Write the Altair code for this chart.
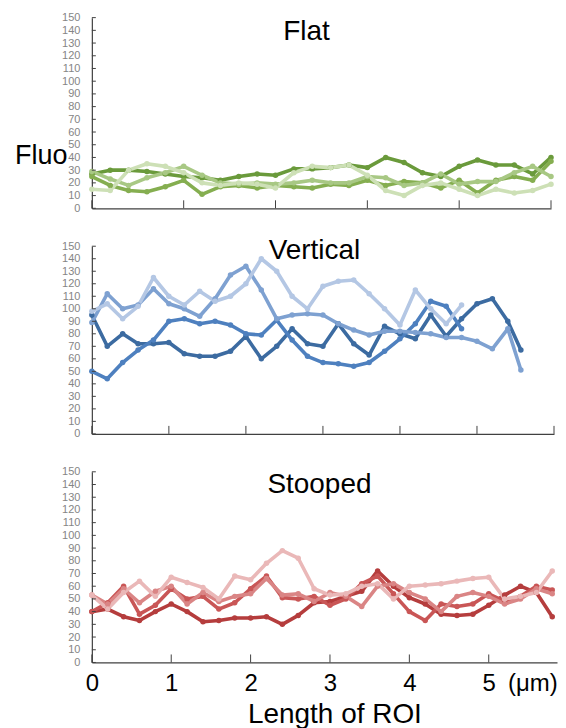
import altair as alt
import pandas as pd

FONT = "Liberation Sans"

# ---------------- data ----------------
flat_x = [0, 0.2, 0.4, 0.6, 0.8, 1.0, 1.2, 1.4, 1.6, 1.8, 2.0, 2.2, 2.4, 2.6,
          2.8, 3.0, 3.2, 3.4, 3.6, 3.8, 4.0, 4.2, 4.4, 4.6, 4.8, 5.0]
flat_1 = [27, 30, 30, 29, 27, 25, 24, 22, 25, 27, 26, 31, 31, 32, 34, 32, 40, 36, 28, 25, 33, 38, 34, 34, 27, 40]
flat_2 = [25, 18, 14, 13, 17, 22, 11, 17, 18, 16, 18, 17, 16, 19, 18, 22, 18, 21, 20, 16, 22, 12, 22, 25, 22, 37]
flat_3 = [29, 23, 18, 24, 28, 33, 26, 20, 19, 20, 19, 20, 22, 20, 20, 25, 24, 18, 20, 27, 19, 21, 21, 28, 33, 25]
flat_4 = [15, 14, 30, 35, 33, 28, 20, 18, 20, 19, 16, 28, 33, 32, 34, 26, 14, 10, 18, 20, 15, 10, 15, 12, 14, 19]

vert_x_long = [0, 0.2, 0.4, 0.6, 0.8, 1.0, 1.2, 1.4, 1.6, 1.8, 2.0, 2.2, 2.4, 2.6,
               2.8, 3.0, 3.2, 3.4, 3.6, 3.8, 4.0, 4.2, 4.4, 4.6, 4.8, 5.0, 5.2, 5.4, 5.57]
vert_x_short = [0, 0.2, 0.4, 0.6, 0.8, 1.0, 1.2, 1.4, 1.6, 1.8, 2.0, 2.2, 2.4, 2.6,
                2.8, 3.0, 3.2, 3.4, 3.6, 3.8, 4.0, 4.2, 4.4, 4.6, 4.8]
vert_1 = [95, 70, 80, 72, 72, 73, 64, 62, 62, 66, 78, 60, 70, 84, 72, 70, 88, 72, 63, 86, 80, 76, 95, 78, 92, 104, 108, 90, 67]
vert_2 = [50, 44, 57, 67, 75, 90, 92, 88, 90, 87, 80, 79, 91, 75, 62, 57, 56, 54, 57, 66, 76, 88, 106, 102, 84]
vert_3 = [89, 112, 100, 103, 116, 104, 100, 94, 108, 127, 134, 115, 92, 95, 96, 95, 88, 83, 79, 82, 82, 81, 80, 77, 77, 74, 68, 84, 51]
vert_4 = [98, 104, 92, 102, 125, 110, 103, 114, 106, 110, 120, 140, 130, 110, 100, 118, 122, 123, 112, 100, 87, 115, 100, 88, 103]

stoop_x = [0, 0.2, 0.4, 0.6, 0.8, 1.0, 1.2, 1.4, 1.6, 1.8, 2.0, 2.2, 2.4, 2.6, 2.8,
           3.0, 3.2, 3.4, 3.6, 3.8, 4.0, 4.2, 4.4, 4.6, 4.8, 5.0, 5.2, 5.4, 5.6, 5.8]
stoop_1 = [40, 42, 36, 33, 40, 46, 40, 32, 33, 35, 35, 36, 30, 37, 47, 48, 52, 56, 72, 60, 51, 46, 38, 37, 38, 45, 53, 60, 55, 36]
stoop_2 = [40, 47, 60, 38, 45, 58, 50, 52, 42, 47, 58, 68, 51, 50, 52, 45, 50, 62, 68, 54, 40, 33, 46, 44, 46, 54, 48, 52, 60, 57]
stoop_3 = [53, 46, 58, 47, 56, 60, 46, 55, 48, 52, 54, 66, 53, 54, 48, 55, 52, 44, 60, 62, 55, 50, 40, 52, 55, 52, 46, 50, 58, 54]
stoop_4 = [53, 42, 55, 64, 52, 67, 63, 59, 50, 68, 65, 78, 88, 82, 58, 53, 54, 60, 62, 50, 60, 61, 62, 64, 66, 67, 50, 52, 55, 72]

flat_names = ["Flat 1", "Flat 2", "Flat 3", "Flat 4"]
vert_names = ["Vertical 1", "Vertical 2", "Vertical 3", "Vertical 4"]
stoop_names = ["Stooped 1", "Stooped 2", "Stooped 3", "Stooped 4"]
green_colors = ["#6a9a3b", "#85ae50", "#a8c884", "#cde0b6"]
blue_colors = ["#3c6ba1", "#4e80bf", "#7ea1d1", "#b4c7e4"]
red_colors = ["#b53d3d", "#c95656", "#da8585", "#eab8b8"]

y_tick_values = [0, 10, 20, 30, 40, 50, 60, 70, 80, 90, 100, 110, 120, 130, 140, 150]
flat_x_ticks = [0, 1, 2, 3, 4, 5]
vert_x_ticks = [0, 1, 2, 3, 4, 5, 6]
stoop_x_ticks = [0, 1, 2, 3, 4, 5]
stoop_label_values = [0, 1, 2, 3, 4, 5, 5.55]
unit_label = "(μm)"


def long_df(names, xs_list, ys_list):
    rows = []
    for name, xs, ys in zip(names, xs_list, ys_list):
        for i, (a, b) in enumerate(zip(xs, ys)):
            rows.append({"x": a, "y": b, "s": name, "o": i})
    return pd.DataFrame(rows)


def panel(df, names, colors, xdomain, xticks, width, height, title, tx, ty, bottom=False, fluo=False):
    xscale = alt.Scale(domain=xdomain, nice=False, zero=False)
    yscale = alt.Scale(domain=[0, 150], nice=False)
    if bottom:
        xaxis = alt.Axis(values=stoop_label_values,
                         labelExpr=f"datum.value > 5.2 ? '{unit_label}' : format(datum.value, 'd')",
                         ticks=False, tickSize=0, grid=False, domainColor="#404040", domainWidth=1.2,
                         labelFontSize=24, labelColor="black", labelFont=FONT,
                         labelBaseline="alphabetic", labelPadding=28, labelFlush=False,
                         labelOverlap=False,
                         title="Length of ROI", titleFont=FONT, titleFontSize=28,
                         titleFontWeight="normal", titleColor="black",
                         titleX=243, titleY=60, titleBaseline="alphabetic")
    else:
        xaxis = alt.Axis(labels=False, ticks=False, tickSize=0, grid=False, title=None,
                         domainColor="#404040", domainWidth=1.2)
    yaxis = alt.Axis(values=y_tick_values, ticks=False, tickSize=0, grid=False, title=None,
                     labelFontSize=11, labelColor="#858585", labelFont=FONT,
                     labelPadding=12, labelOverlap=False, domainColor="#404040", domainWidth=1.2)
    color = alt.Color("s:N", scale=alt.Scale(domain=names, range=colors), legend=None)

    lines = alt.Chart(df).mark_line(
        strokeWidth=3.6, strokeJoin="round", strokeCap="round",
        point=alt.OverlayMarkDef(size=30, filled=True, opacity=1)
    ).encode(
        x=alt.X("x:Q", scale=xscale, axis=xaxis),
        y=alt.Y("y:Q", scale=yscale, axis=yaxis),
        color=color,
        detail="s:N",
        order="o:Q",
    )
    xt = alt.Chart(pd.DataFrame({"x": xticks})).mark_rule(color="#404040", strokeWidth=1).encode(
        x=alt.X("x:Q", scale=xscale, axis=xaxis),
        y=alt.value(height), y2=alt.value(height - 8),
    )
    yt = alt.Chart(pd.DataFrame({"y": y_tick_values})).mark_rule(color="#404040", strokeWidth=1).encode(
        y=alt.Y("y:Q", scale=yscale, axis=yaxis),
        x=alt.value(0), x2=alt.value(4),
    )
    txt = alt.Chart(pd.DataFrame({"t": [title]})).mark_text(
        font=FONT, fontSize=28, color="black", align="center", baseline="alphabetic"
    ).encode(text="t:N", x=alt.value(tx), y=alt.value(ty))
    layers = [lines, xt, yt, txt]
    if fluo:
        ft = alt.Chart(pd.DataFrame({"t": ["Fluo"]})).mark_text(
            font=FONT, fontSize=27, color="black", align="left", baseline="alphabetic"
        ).encode(text="t:N", x=alt.value(-77), y=alt.value(147))
        layers.append(ft)
    return alt.layer(*layers).properties(width=width, height=height)


flat_df = long_df(flat_names, [flat_x] * 4, [flat_1, flat_2, flat_3, flat_4])
vert_df = long_df(vert_names, [vert_x_long, vert_x_short, vert_x_long, vert_x_short],
                  [vert_1, vert_2, vert_3, vert_4])
stoop_df = long_df(stoop_names, [stoop_x] * 4, [stoop_1, stoop_2, stoop_3, stoop_4])

top = panel(flat_df, flat_names, green_colors, [0, 5], flat_x_ticks, 460, 191, "Flat", 215, 22, fluo=True)
mid = panel(vert_df, vert_names, blue_colors, [0, 6], vert_x_ticks, 463, 188, "Vertical", 223, 13)
bot = panel(stoop_df, stoop_names, red_colors, [0, 5.86], stoop_x_ticks, 466, 191, "Stooped", 228, 21, bottom=True)

chart = alt.vconcat(top, mid, bot, spacing=38, bounds="flush").resolve_scale(
    color="independent", x="independent", y="independent"
).properties(
    padding={"left": 7, "top": 3, "right": 0, "bottom": 0}
).configure_view(stroke=None)

chart.save("out.html", embed_options={"renderer": "svg", "actions": False})
